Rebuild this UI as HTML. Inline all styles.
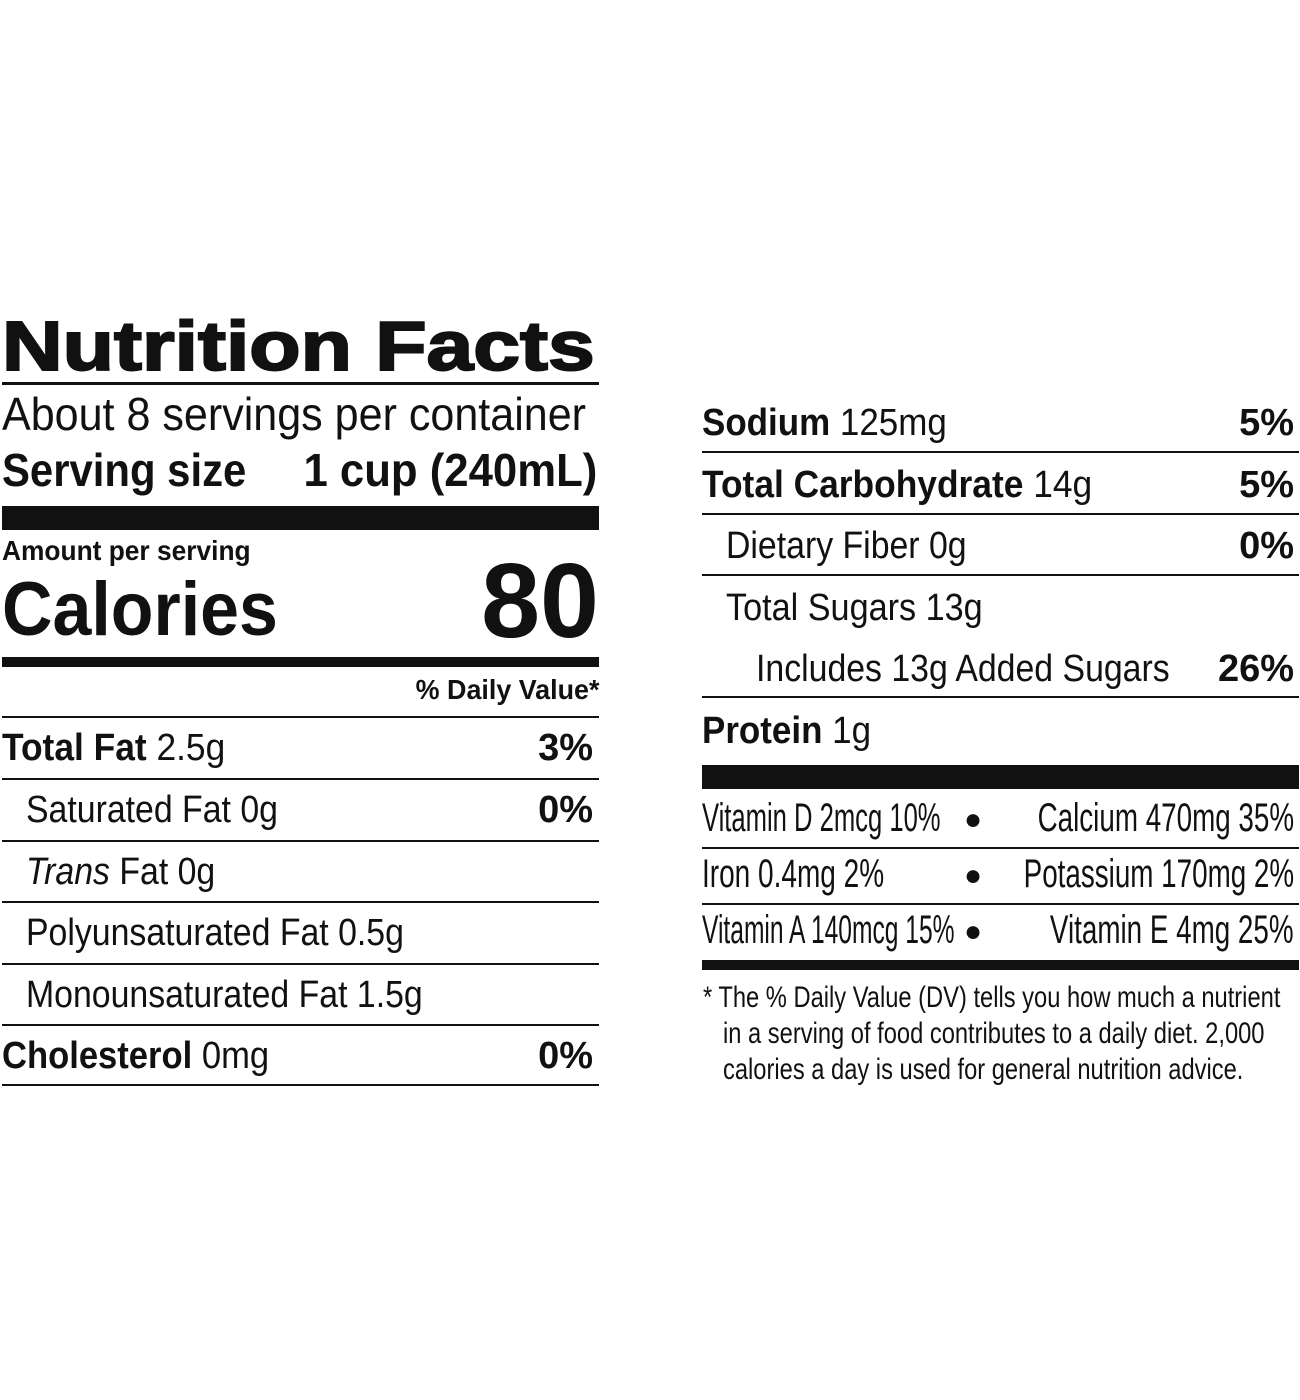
<!DOCTYPE html>
<html><head><style>
body{margin:0;width:1300px;height:1400px;background:#fff;position:relative;overflow:hidden;font-family:"Liberation Sans",sans-serif;color:#111}
.t{position:absolute;white-space:nowrap;line-height:1;transform-origin:left top}
.rt{transform-origin:right top}
.b{font-weight:bold}
.r{position:absolute;background:#111}
</style></head><body>
<div class="t b" style="left:2px;top:311px;font-size:70px;-webkit-text-stroke:2px #111;transform:scaleX(1.2)">Nutrition Facts</div>
<div class="r" style="left:2px;top:382px;width:597px;height:3px"></div>
<div class="t" style="left:2px;top:391px;font-size:46px;transform:scaleX(0.936)">About 8 servings per container</div>
<div class="t b" style="left:2px;top:447px;font-size:46px;transform:scaleX(0.91)">Serving size</div>
<div class="t b rt" style="right:703px;top:447px;font-size:46px;transform:scaleX(0.95)">1 cup (240mL)</div>
<div class="r" style="left:2px;top:506px;width:597px;height:24px"></div>
<div class="t b" style="left:2px;top:537px;font-size:28px;transform:scaleX(0.94)">Amount per serving</div>
<div class="t b" style="left:2px;top:572px;font-size:76px;transform:scaleX(0.92)">Calories</div>
<div class="t b" style="right:701px;top:548px;font-size:106px">80</div>
<div class="r" style="left:2px;top:657px;width:597px;height:10px"></div>
<div class="t b rt" style="right:701px;top:676px;font-size:28px;transform:scaleX(0.96)">% Daily Value*</div>
<div class="r" style="left:2px;top:716px;width:597px;height:2px"></div>

<div class="t" style="left:2px;top:729px;font-size:38px;transform:scaleX(0.93)"><b>Total Fat</b> 2.5g</div><div class="t b" style="right:707px;top:729px;font-size:38px">3%</div>
<div class="r" style="left:2px;top:778px;width:597px;height:2px"></div>
<div class="t" style="left:26px;top:791px;font-size:38px;transform:scaleX(0.89)">Saturated Fat 0g</div><div class="t b" style="right:707px;top:791px;font-size:38px">0%</div>
<div class="r" style="left:2px;top:840px;width:597px;height:2px"></div>
<div class="t" style="left:26px;top:853px;font-size:38px;transform:scaleX(0.89)"><i>Trans</i> Fat 0g</div>
<div class="r" style="left:2px;top:901px;width:597px;height:2px"></div>
<div class="t" style="left:26px;top:914px;font-size:38px;transform:scaleX(0.89)">Polyunsaturated Fat 0.5g</div>
<div class="r" style="left:2px;top:963px;width:597px;height:2px"></div>
<div class="t" style="left:26px;top:976px;font-size:38px;transform:scaleX(0.89)">Monounsaturated Fat 1.5g</div>
<div class="r" style="left:2px;top:1024px;width:597px;height:2px"></div>
<div class="t" style="left:2px;top:1037px;font-size:38px;transform:scaleX(0.91)"><b>Cholesterol</b> 0mg</div><div class="t b" style="right:707px;top:1037px;font-size:38px">0%</div>
<div class="r" style="left:2px;top:1084px;width:597px;height:2px"></div>

<div class="t" style="left:702px;top:404px;font-size:38px;transform:scaleX(0.92)"><b>Sodium</b> 125mg</div><div class="t b" style="right:6px;top:404px;font-size:38px">5%</div>
<div class="r" style="left:702px;top:451px;width:597px;height:2px"></div>
<div class="t" style="left:702px;top:466px;font-size:38px;transform:scaleX(0.93)"><b>Total Carbohydrate</b> 14g</div><div class="t b" style="right:6px;top:466px;font-size:38px">5%</div>
<div class="r" style="left:702px;top:513px;width:597px;height:2px"></div>
<div class="t" style="left:726px;top:527px;font-size:38px;transform:scaleX(0.89)">Dietary Fiber 0g</div><div class="t b" style="right:6px;top:527px;font-size:38px">0%</div>
<div class="r" style="left:702px;top:574px;width:597px;height:2px"></div>
<div class="t" style="left:726px;top:589px;font-size:38px;transform:scaleX(0.9)">Total Sugars 13g</div>
<div class="t" style="left:756px;top:650px;font-size:38px;transform:scaleX(0.89)">Includes 13g Added Sugars</div><div class="t b" style="right:6px;top:650px;font-size:38px">26%</div>
<div class="r" style="left:702px;top:696px;width:597px;height:2px"></div>
<div class="t" style="left:702px;top:712px;font-size:38px;transform:scaleX(0.92)"><b>Protein</b> 1g</div>
<div class="r" style="left:702px;top:765px;width:597px;height:24px"></div>

<div class="t" style="left:702px;top:798px;font-size:40px;transform:scaleX(0.64)">Vitamin D 2mcg 10%</div><div class="t" style="left:964px;top:805px;font-size:30px">●</div><div class="t rt" style="right:6px;top:798px;font-size:40px;transform:scaleX(0.695)">Calcium 470mg 35%</div>
<div class="r" style="left:702px;top:847px;width:597px;height:2px"></div>
<div class="t" style="left:702px;top:854px;font-size:40px;transform:scaleX(0.7)">Iron 0.4mg 2%</div><div class="t" style="left:964px;top:861px;font-size:30px">●</div><div class="t rt" style="right:6px;top:854px;font-size:40px;transform:scaleX(0.695)">Potassium 170mg 2%</div>
<div class="r" style="left:702px;top:903px;width:597px;height:2px"></div>
<div class="t" style="left:702px;top:910px;font-size:40px;transform:scaleX(0.615)">Vitamin A 140mcg 15%</div><div class="t" style="left:964px;top:917px;font-size:30px">●</div><div class="t rt" style="right:6px;top:910px;font-size:40px;transform:scaleX(0.695)">Vitamin E 4mg 25%</div>
<div class="r" style="left:702px;top:960px;width:597px;height:10px"></div>

<div class="t" style="left:703px;top:983px;font-size:30px;transform:scaleX(0.79)">* The % Daily Value (DV) tells you how much a nutrient</div>
<div class="t" style="left:723px;top:1019px;font-size:30px;transform:scaleX(0.79)">in a serving of food contributes to a daily diet. 2,000</div>
<div class="t" style="left:723px;top:1055px;font-size:30px;transform:scaleX(0.79)">calories a day is used for general nutrition advice.</div>
</body></html>
